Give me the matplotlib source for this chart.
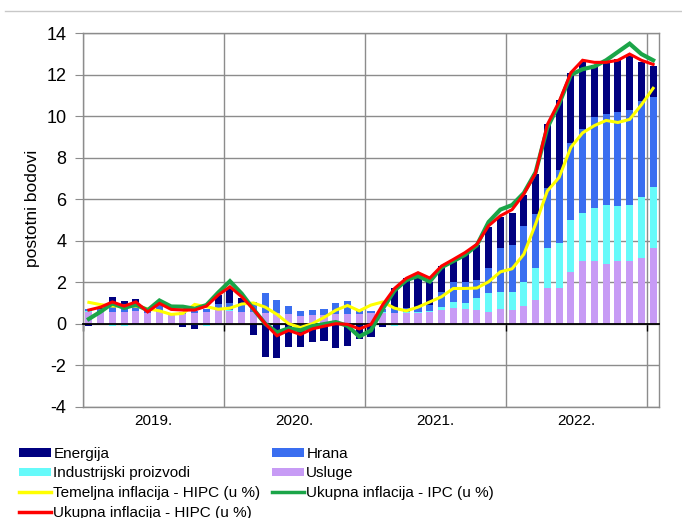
import matplotlib
matplotlib.use('Agg')
import matplotlib.pyplot as plt
import numpy as np
from matplotlib.patches import Patch
from matplotlib.lines import Line2D
import matplotlib.transforms as mtransforms

plt.rcParams['font.family'] = ['Liberation Sans', 'DejaVu Sans']
plt.rcParams['axes.unicode_minus'] = False

# Monthly data, Jan 2019 - Jan 2023 (percentage points / %)
years = ['2019.', '2020.', '2021.', '2022.']

usluge = [0.55, 0.55, 0.55, 0.55, 0.6, 0.5, 0.55, 0.4, 0.45, 0.5, 0.55, 0.65,
          0.6, 0.55, 0.55, 0.5, 0.5, 0.45, 0.35, 0.4, 0.4, 0.45, 0.45, 0.45,
          0.5, 0.5, 0.5, 0.5, 0.5, 0.55, 0.66, 0.74, 0.7, 0.66, 0.58, 0.7,
          0.66, 0.86, 1.15, 1.7, 1.7, 2.5, 3.0, 3.02, 2.9, 3.03, 3.03, 3.15, 3.67]

industrijski = [0.05, 0.0, -0.1, -0.1, -0.05, 0.0, 0.0, 0.0, 0.0, -0.05, -0.1, -0.05,
                0.05, 0.0, 0.0, 0.0, 0.0, 0.0, -0.05, 0.0, 0.0, 0.0, 0.0, 0.0,
                0.0, 0.05, -0.1, 0.05, 0.05, 0.05, 0.16, 0.32, 0.28, 0.56, 0.88, 0.84,
                0.86, 1.14, 1.52, 1.95, 2.2, 2.5, 2.36, 2.58, 2.82, 2.65, 2.69, 2.95, 2.92]

hrana = [0.1, 0.15, 0.25, 0.25, 0.2, 0.1, 0.45, 0.1, 0.1, 0.1, 0.15, 0.3,
         0.35, 0.4, 0.5, 1.0, 0.65, 0.4, 0.25, 0.26, 0.3, 0.55, 0.65, 0.15,
         0.13, 0.15, 0.25, 0.2, 0.27, 0.3, 0.72, 0.97, 1.05, 0.88, 1.21, 2.09,
         2.28, 2.72, 2.63, 2.9, 3.5, 3.7, 4.04, 4.35, 4.38, 4.55, 4.6, 4.65, 4.33]

energija = [-0.1, 0.05, 0.5, 0.3, 0.4, 0.0, 0.0, 0.0, -0.15, -0.22, 0.0, 0.45,
            0.7, 0.3, -0.55, -1.6, -1.67, -1.14, -1.05, -0.9, -0.85, -1.15, -1.05, -0.75,
            -0.65, -0.15, 0.95, 1.45, 1.64, 1.13, 1.25, 1.04, 1.36, 1.7, 2.01, 1.53,
            1.55, 1.48, 1.9, 3.08, 3.4, 3.4, 3.2, 2.5, 2.5, 2.52, 2.6, 1.87, 1.48]

temeljna_hipc = [1.03, 0.92, 0.85, 0.85, 0.85, 0.72, 0.62, 0.45, 0.5, 0.93, 0.82, 0.7,
                 0.75, 0.95, 1.0, 0.8, 0.45, 0.0, -0.18, 0.0, 0.3, 0.65, 0.88, 0.62,
                 0.9, 1.05, 0.75, 0.62, 0.8, 1.05, 1.3, 1.7, 1.7, 1.72, 2.02, 2.5,
                 2.65, 3.35, 4.8, 6.4, 7.05, 8.5, 9.2, 9.55, 9.8, 9.7, 9.85, 10.55, 11.35]

ukupna_ipc = [0.23, 0.58, 0.98, 0.76, 0.92, 0.65, 1.12, 0.83, 0.82, 0.72, 0.9, 1.5,
              2.05, 1.45, 0.7, 0.0, -0.42, -0.22, -0.32, -0.12, -0.02, 0.08, -0.1, -0.62,
              -0.32, 0.72, 1.6, 2.1, 2.3, 2.03, 2.72, 3.02, 3.32, 3.78, 4.9, 5.5,
              5.72, 6.3, 7.3, 9.45, 10.6, 12.0, 12.27, 12.4, 12.7, 13.1, 13.5, 13.0, 12.7]

ukupna_hipc = [0.66, 0.8, 1.05, 0.85, 1.05, 0.57, 0.98, 0.69, 0.66, 0.66, 0.85, 1.38,
               1.78, 1.3, 0.7, 0.0, -0.58, -0.32, -0.52, -0.25, -0.12, 0.0, -0.03, -0.25,
               -0.03, 0.92, 1.7, 2.19, 2.46, 2.2, 2.78, 3.1, 3.43, 3.83, 4.72, 5.2,
               5.5, 6.25, 7.25, 9.6, 10.7, 12.1, 12.7, 12.6, 12.6, 12.7, 13.0, 12.7, 12.5]

c_navy = '#000080'
c_blue = '#3A6EF0'
c_cyan = '#66FAFA'
c_purple = '#C79BF5'
c_yellow = '#FFFF00'
c_green = '#1BA548'
c_red = '#FF0000'
c_grid = '#8C8C8C'

fig = plt.figure(figsize=(6.82, 5.18), dpi=100)
ax = fig.add_axes([83 / 682, 1 - 406.7 / 518, (659 - 83) / 682, 373.4 / 518])

n = len(usluge)
x = np.arange(n)
comps = [(usluge, c_purple, 'Usluge'),
         (industrijski, c_cyan, 'Industrijski proizvodi'),
         (hrana, c_blue, 'Hrana'),
         (energija, c_navy, 'Energija')]
pos_base = np.zeros(n)
neg_base = np.zeros(n)
for vals, col, lab in comps:
    v = np.array(vals)
    p = np.where(v > 0, v, 0)
    m = np.where(v < 0, v, 0)
    ax.bar(x, p, 0.6, bottom=pos_base, color=col, zorder=2, linewidth=0)
    ax.bar(x, m, 0.6, bottom=neg_base, color=col, zorder=2, linewidth=0)
    pos_base += p
    neg_base += m

ax.plot(x, temeljna_hipc, color=c_yellow, lw=2.2, zorder=4, solid_joinstyle='miter')
ax.plot(x, ukupna_ipc, color=c_green, lw=3.0, zorder=5, solid_joinstyle='miter')
ax.plot(x, ukupna_hipc, color=c_red, lw=2.2, zorder=6, solid_joinstyle='miter')

ax.set_xlim(-0.5, n - 0.5)
ax.set_ylim(-4, 14)
ax.set_yticks(np.arange(-4, 15, 2))
ax.tick_params(axis='y', direction='out', length=6, color=c_grid, labelsize=13, pad=6)

bounds = [-0.5, 11.5, 23.5, 35.5, 47.5]
ax.set_xticks(bounds)
ax.set_xticklabels([''] * len(bounds))
ax.tick_params(axis='x', direction='out', length=5, color='black', width=1)
ax.spines['bottom'].set_position(('data', 0))
ax.spines['bottom'].set_color('black')
ax.spines['bottom'].set_linewidth(1.3)
ax.spines['bottom'].set_zorder(3)
for s in ['left', 'right', 'top']:
    ax.spines[s].set_color(c_grid)
    ax.spines[s].set_linewidth(1)

ax.set_axisbelow(True)
ax.grid(True, axis='both', color=c_grid, lw=1)
ax.axhline(-4, color=c_grid, lw=1, clip_on=False, zorder=1)

trans = mtransforms.blended_transform_factory(ax.transData, ax.transAxes)
for i, yl in enumerate(years):
    ax.text(5.5 + 12 * i, -0.038, yl, transform=trans, ha='center', va='center', fontsize=11)

ax.set_ylabel('postotni bodovi', fontsize=12.5)
ax.yaxis.set_label_coords(-0.075, 0.532)

fig.add_artist(Line2D([5 / 682, 1], [1 - 11 / 518] * 2, color='#C8C8C8', lw=1))

h_en = Patch(facecolor=c_navy, label='Energija')
h_hr = Patch(facecolor=c_blue, label='Hrana')
h_ind = Patch(facecolor=c_cyan, label='Industrijski proizvodi')
h_us = Patch(facecolor=c_purple, label='Usluge')
h_tem = Line2D([], [], color=c_yellow, lw=2.5, label='Temeljna inflacija - HIPC (u %)')
h_ipc = Line2D([], [], color=c_green, lw=2.5, label='Ukupna inflacija - IPC (u %)')
h_hipc = Line2D([], [], color=c_red, lw=2.5, label='Ukupna inflacija - HIPC (u %)')
handles = [h_en, h_ind, h_tem, h_hipc, h_hr, h_us, h_ipc]
fig.legend(handles=handles, loc='upper left', bbox_to_anchor=(19 / 682, 1 - 447 / 518),
           ncol=2, frameon=False, fontsize=11, handlelength=2.1, handleheight=0.5,
           handletextpad=0.15, labelspacing=0.36, columnspacing=0.75,
           borderpad=0, borderaxespad=0)

fig.savefig('out.png', dpi=100)
